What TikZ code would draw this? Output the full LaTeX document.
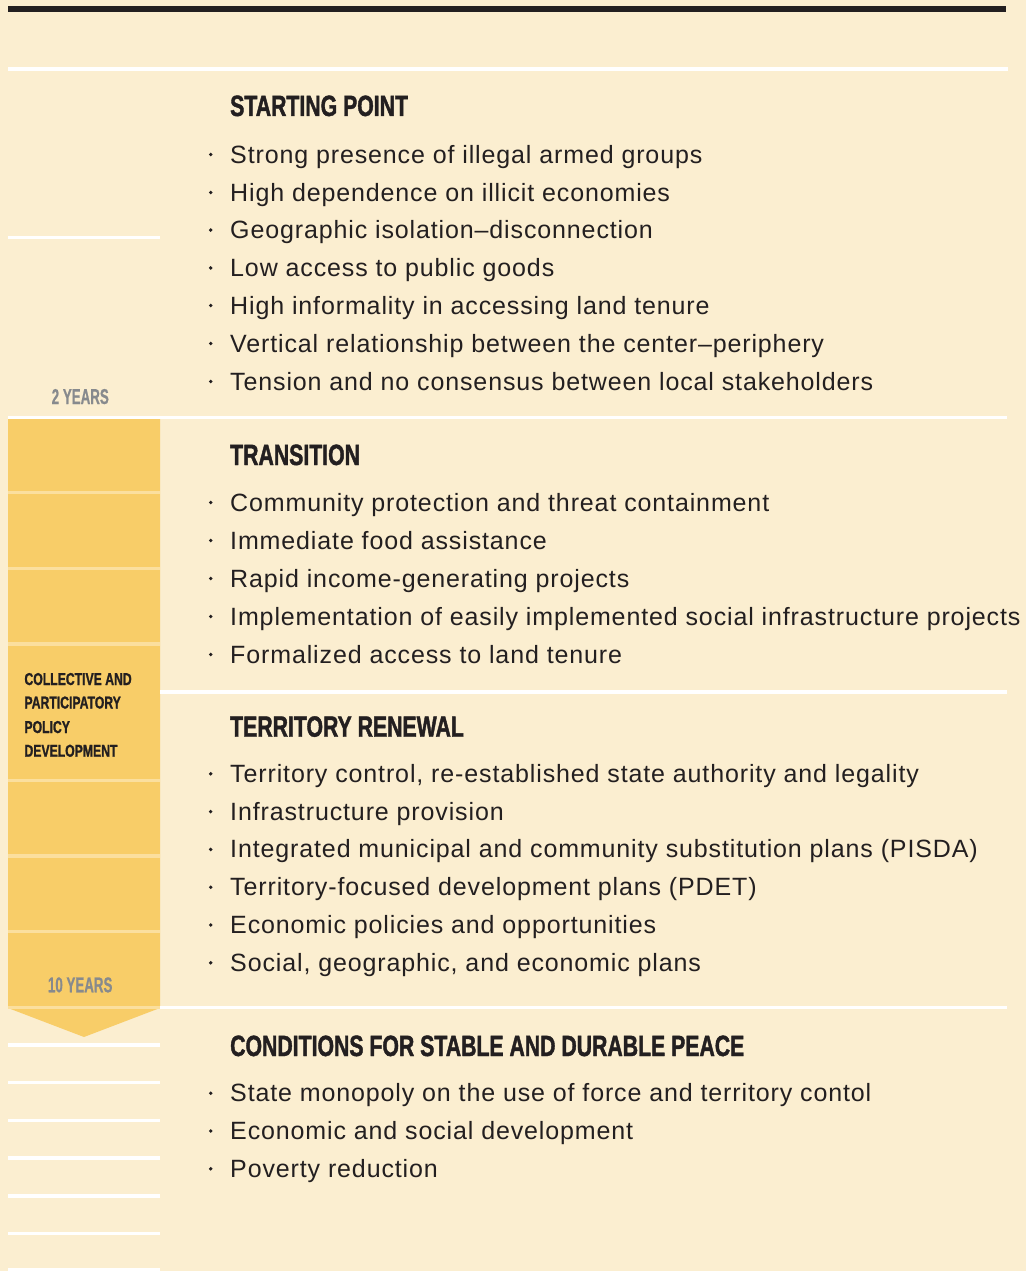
\documentclass[tikz,border=0pt]{standalone}
\usepackage{fontspec}
\newfontfamily\bodyfont[LetterSpace=3.5]{Liberation Sans}
\newfontfamily\headfont[FakeStretch=0.725,FakeBold=1.4]{Liberation Sans}
\newfontfamily\sidefont[FakeStretch=0.71,FakeBold=1.2]{Liberation Sans}
\newfontfamily\yrsfont[FakeStretch=0.62,FakeBold=0.6]{Liberation Sans}
\definecolor{bgc}{HTML}{FBEED0}
\definecolor{ylw}{HTML}{F8CD68}
\definecolor{lyl}{HTML}{FBDF9E}
\definecolor{ink}{HTML}{231F20}
\definecolor{gry}{HTML}{878A8D}
\tikzset{
  item/.style={anchor=base west, inner sep=0pt, text=ink, font=\bodyfont\fontsize{25}{30}\selectfont},
  dot/.style={circle, fill=ink, inner sep=0pt, minimum size=3.8pt},
  head/.style={anchor=base west, inner sep=0pt, text=ink, font=\headfont\bfseries\fontsize{29.3}{35}\selectfont},
  side/.style={anchor=base west, inner sep=0pt, text=ink, font=\sidefont\bfseries\fontsize{17.2}{20}\selectfont},
  yrs/.style={anchor=base, inner sep=0pt, text=gry, font=\yrsfont\bfseries\fontsize{21.5}{25}\selectfont},
  wline/.style={fill=white},
  lline/.style={fill=lyl}
}
\begin{document}
\begin{tikzpicture}[x=1pt,y=-1pt]
\fill[bgc] (0,0) rectangle (1026,1271);
\useasboundingbox (0,0) rectangle (1026,1271);
% top bar
\fill[ink] (8,6) rectangle (1006,12);
% full-width separators
\fill[wline] (8,67.5) rectangle (1008,71);
\fill[wline] (8,415.7) rectangle (1007,419);
% short line in starting section
\fill[wline] (8,235.5) rectangle (160,239);
% yellow timeline arrow
\fill[ylw] (8,419) -- (160,419) -- (160,1008) -- (84,1037) -- (8,1008) -- cycle;
\foreach \yy in {492.6,568.7,644,780.7,856,931.7}{
  \fill[lline] (8,\yy-1.7) rectangle (160,\yy+1.7);
}
\fill[lline] (8,1005.5) rectangle (160,1008.5);
% separators right of column
\fill[wline] (160,690.3) rectangle (1007,693.5);
\fill[wline] (160,1005.5) rectangle (1007,1008.5);
% short lines below arrow
\foreach \yy in {1045,1082.7,1120.7,1158,1196,1233.7,1270}{
  \fill[wline] (8,\yy-1.6) rectangle (160,\yy+1.6);
}
% left column labels
\node[yrs] (y2) at (80.3,404) {2 YEARS};
\node[yrs] (y10) at (80.2,992.3) {10 YEARS};
\node[side] (s1) at (24.3,685) {COLLECTIVE AND};
\node[side] (s2) at (24.3,708.5) {PARTICIPATORY};
\node[side] (s3) at (24.3,733) {POLICY};
\node[side] (s4) at (24.3,756.7) {DEVELOPMENT};
% STARTING POINT
\node[head] (h1) at (230,116) {STARTING POINT};
\foreach \yy [count=\i] in {163,201,238.6,276.4,314,352,390}{
  \node[dot] (d1\i) at (210.7,\yy-8.5) {};
}
\node[item] (a1) at (230,163) {Strong presence of illegal armed groups};
\node[item] (a2) at (230,201) {High dependence on illicit economies};
\node[item] (a3) at (230,238.6) {Geographic isolation–disconnection};
\node[item] (a4) at (230,276.4) {Low access to public goods};
\node[item] (a5) at (230,314) {High informality in accessing land tenure};
\node[item] (a6) at (230,352) {Vertical relationship between the center–periphery};
\node[item] (a7) at (230,390) {Tension and no consensus between local stakeholders};
% TRANSITION
\node[head] (h2) at (230,465) {TRANSITION};
\foreach \yy [count=\i] in {511,549,587,625,663}{
  \node[dot] (d2\i) at (210.7,\yy-8.5) {};
}
\node[item] (b1) at (230,511) {Community protection and threat containment};
\node[item] (b2) at (230,549) {Immediate food assistance};
\node[item] (b3) at (230,587) {Rapid income-generating projects};
\node[item] (b4) at (230,625) {Implementation of easily implemented social infrastructure projects};
\node[item] (b5) at (230,663) {Formalized access to land tenure};
% TERRITORY RENEWAL
\node[head] (h3) at (230,736.7) {TERRITORY RENEWAL};
\foreach \yy [count=\i] in {782.3,820.1,857.9,895.7,933.5,971.3}{
  \node[dot] (d3\i) at (210.7,\yy-8.5) {};
}
\node[item] (c1) at (230,782.3) {Territory control, re-established state authority and legality};
\node[item] (c2) at (230,820.1) {Infrastructure provision};
\node[item] (c3) at (230,857.9) {Integrated municipal and community substitution plans (PISDA)};
\node[item] (c4) at (230,895.7) {Territory-focused development plans (PDET)};
\node[item] (c5) at (230,933.5) {Economic policies and opportunities};
\node[item] (c6) at (230,971.3) {Social, geographic, and economic plans};
% CONDITIONS
\node[head] (h4) at (230,1056) {CONDITIONS FOR STABLE AND DURABLE PEACE};
\foreach \yy [count=\i] in {1101.7,1139.5,1177.3}{
  \node[dot] (d4\i) at (210.7,\yy-8.5) {};
}
\node[item] (e1) at (230,1101.7) {State monopoly on the use of force and territory contol};
\node[item] (e2) at (230,1139.5) {Economic and social development};
\node[item] (e3) at (230,1177.3) {Poverty reduction};
\end{tikzpicture}
\end{document}
